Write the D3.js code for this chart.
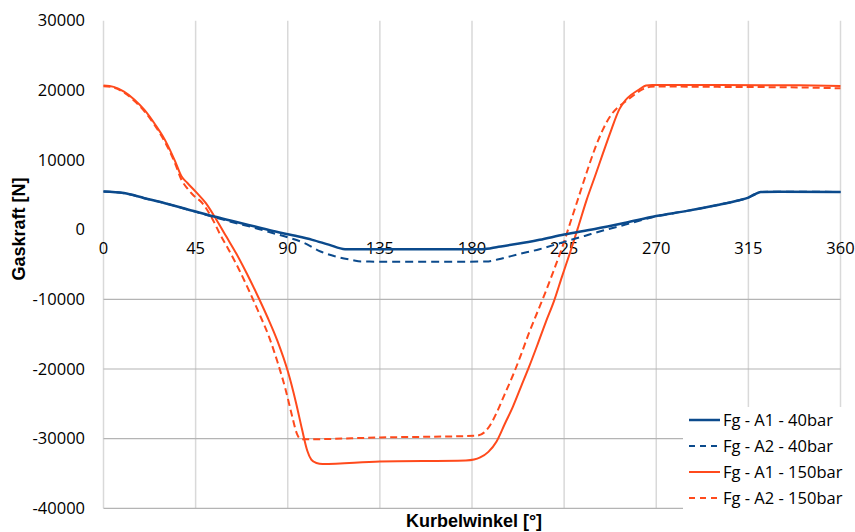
<!DOCTYPE html>
<html>
<head>
<meta charset="utf-8">
<script src="https://cdn.jsdelivr.net/npm/d3@7"></script>
<style>
  body { margin: 0; background: #fff; }
  text { font-family: "Open Sans", "Liberation Sans", sans-serif; fill: #000; }
  .title { font-family: "Liberation Sans", Arial, sans-serif; font-weight: bold; font-size: 18px; }
</style>
</head>
<body>
<script>
var fullWidth = 855;
var fullHeight = 532;

// x ticks (crank angle) and y ticks (gas force)
var xTicks = [0, 45, 90, 135, 180, 225, 270, 315, 360];
var yTicks = [30000, 20000, 10000, 0, -10000, -20000, -30000, -40000];
var yGridTicks = [-10000, -20000, -30000, -40000];

// series: [angle in deg, force in N]
var fgA1_40 = [[0,5470],[10,5250],[20,4520],[30,3800],[45,2600],[54,1880],[64,1170],[74,450],
  [84,-270],[93,-840],[102,-1460],[110,-2150],[118,-2800],[150,-2800],[185,-2800],[193,-2450],
  [203,-2000],[213,-1450],[225,-700],[240,100],[255,1000],[270,1950],[285,2700],[300,3550],
  [310,4200],[315,4600],[318,5050],[321,5400],[330,5450],[360,5420]];

var fgA2_40 = [[0,5470],[10,5240],[20,4520],[30,3800],[45,2550],[54,1800],[64,1000],[74,250],
  [84,-600],[90,-1100],[98,-1900],[106,-3140],[114,-3900],[121,-4330],[126,-4580],[150,-4600],
  [187,-4580],[193,-4250],[203,-3500],[213,-2800],[225,-1750],[235,-900],[244,-130],[255,730],
  [270,1900],[285,2700],[300,3550],[310,4200],[315,4600],[318,5050],[321,5400],[330,5450],[360,5420]];

var fgA1_150 = [[0,20680],[5,20500],[10,19820],[15,18700],[20,17190],[25,15200],[30,12890],
  [35,9800],[38,7700],[41,6700],[45,5470],[50,3800],[55,1500],[60,-990],[65,-3500],[70,-6300],
  [75,-9300],[80,-12500],[85,-16000],[90,-20300],[94,-24800],[97,-28700],[99.5,-31700],
  [101.5,-33000],[104,-33500],[107,-33650],[135,-33270],[177,-33130],[181,-33000],[184,-32700],
  [188,-31900],[192,-30400],[196,-27900],[200,-25400],[204,-22500],[208,-19600],[212,-16500],
  [216,-13300],[220,-10300],[224,-6700],[228,-3200],[232,500],[236,4280],[240,7600],[244,10980],
  [248,14300],[252,17300],[255,18600],[258,19400],[262,20200],[265,20700],[268,20780],
  [300,20780],[340,20720],[360,20640]];

var fgA2_150 = [[0,20600],[5,20400],[10,19700],[15,18500],[20,17000],[25,15000],[30,12600],
  [35,9500],[38,7200],[41,5900],[44,4900],[48,3900],[53,1650],[57,-700],[61,-2800],[66,-5600],
  [71,-8700],[76,-12000],[81,-15500],[85,-19000],[89,-23000],[92,-26600],[94.5,-29300],[96,-30000],
  [98,-30100],[135,-29830],[182,-29590],[186,-29100],[189,-28000],[192,-26300],[196,-23600],
  [200,-20900],[204,-17900],[208,-14700],[212,-11800],[216,-8900],[220,-5800],[224,-2600],
  [228,1000],[232,4600],[236,8200],[240,11600],[244,14400],[248,16500],[251,17500],[255,18400],
  [259,19300],[263,20100],[267,20500],[270,20550],[300,20500],[340,20420],[360,20300]];

var seriesNames = ["Fg - A1 - 40bar", "Fg - A2 - 40bar", "Fg - A1 - 150bar", "Fg - A2 - 150bar"];
var seriesData = [fgA1_40, fgA2_40, fgA1_150, fgA2_150];
var seriesColors = ["#0b4a8c", "#0b4a8c", "#ff4a1c", "#ff4a1c"];
var seriesDash = [null, "8,5", null, "7,4"];
var seriesWidth = [2.5, 2, 2, 2];

window.onload = function() {

    var svg = d3.select("body")
                .append("svg")
                .attr("width", fullWidth)
                .attr("height", fullHeight);

    var xScale = d3.scaleLinear()
                   .domain([0, 360])
                   .range([103.5, 840.5]);

    var yScale = d3.scaleLinear()
                   .domain([-40000, 30000])
                   .range([508.3, 20.7]);

    // vertical grid lines
    svg.selectAll(".vgrid")
       .data(xTicks)
       .enter()
       .append("line")
       .attr("x1", function(d) { return xScale(d); })
       .attr("x2", function(d) { return xScale(d); })
       .attr("y1", yScale(30000))
       .attr("y2", yScale(-40000))
       .style("stroke", "#d9d9d9")
       .style("stroke-width", 1.5);

    // horizontal grid lines (only below zero)
    svg.selectAll(".hgrid")
       .data(yGridTicks)
       .enter()
       .append("line")
       .attr("x1", xScale(0))
       .attr("x2", xScale(360))
       .attr("y1", function(d) { return yScale(d); })
       .attr("y2", function(d) { return yScale(d); })
       .style("stroke", "#b4b4b4")
       .style("stroke-width", 1.2);

    // y tick labels
    svg.selectAll(".ylab")
       .data(yTicks)
       .enter()
       .append("text")
       .attr("x", 85)
       .attr("y", function(d) { return yScale(d); })
       .attr("dy", ".35em")
       .style("text-anchor", "end")
       .style("font-size", "16.5px")
       .text(function(d) { return d; });

    // x tick labels, sitting under the zero line
    svg.selectAll(".xlab")
       .data(xTicks)
       .enter()
       .append("text")
       .attr("x", function(d) { return xScale(d); })
       .attr("y", yScale(0) + 24)
       .style("text-anchor", "middle")
       .style("font-size", "16.5px")
       .text(function(d) { return d; });

    var line = d3.line()
                 .x(function(d) { return xScale(d[0]); })
                 .y(function(d) { return yScale(d[1]); })
                 .curve(d3.curveMonotoneX);

    // draw curves, orange first so blue sits on top like in the original
    var order = [2, 3, 0, 1];
    order.forEach(function(i) {
        svg.append("path")
           .datum(seriesData[i])
           .attr("d", line)
           .style("fill", "none")
           .style("stroke", seriesColors[i])
           .style("stroke-width", seriesWidth[i])
           .style("stroke-dasharray", seriesDash[i]);
    });

    // legend box covers the grid
    svg.append("rect")
       .attr("x", 683)
       .attr("y", 407)
       .attr("width", 172)
       .attr("height", 125)
       .style("fill", "#fff");

    var legend = svg.selectAll(".legend")
                    .data(seriesNames)
                    .enter()
                    .append("g")
                    .attr("class", "legend")
                    .attr("transform", function(d, i) {
                        return "translate(689," + (420 + i * 26) + ")";
                    });

    legend.append("line")
          .attr("x1", 0)
          .attr("x2", 31)
          .style("stroke", function(d, i) { return seriesColors[i]; })
          .style("stroke-width", function(d, i) { return seriesWidth[i]; })
          .style("stroke-dasharray", function(d, i) { return i % 2 ? "6,5" : null; });

    legend.append("text")
          .attr("x", 34)
          .attr("dy", ".35em")
          .style("font-size", "16.5px")
          .text(function(d) { return d; });

    // axis titles
    svg.append("text")
       .attr("class", "title")
       .attr("transform", "translate(25,229) rotate(-90)")
       .style("text-anchor", "middle")
       .text("Gaskraft [N]");

    svg.append("text")
       .attr("class", "title")
       .attr("x", 474)
       .attr("y", 527)
       .style("text-anchor", "middle")
       .text("Kurbelwinkel [°]");
};
</script>
</body>
</html>
